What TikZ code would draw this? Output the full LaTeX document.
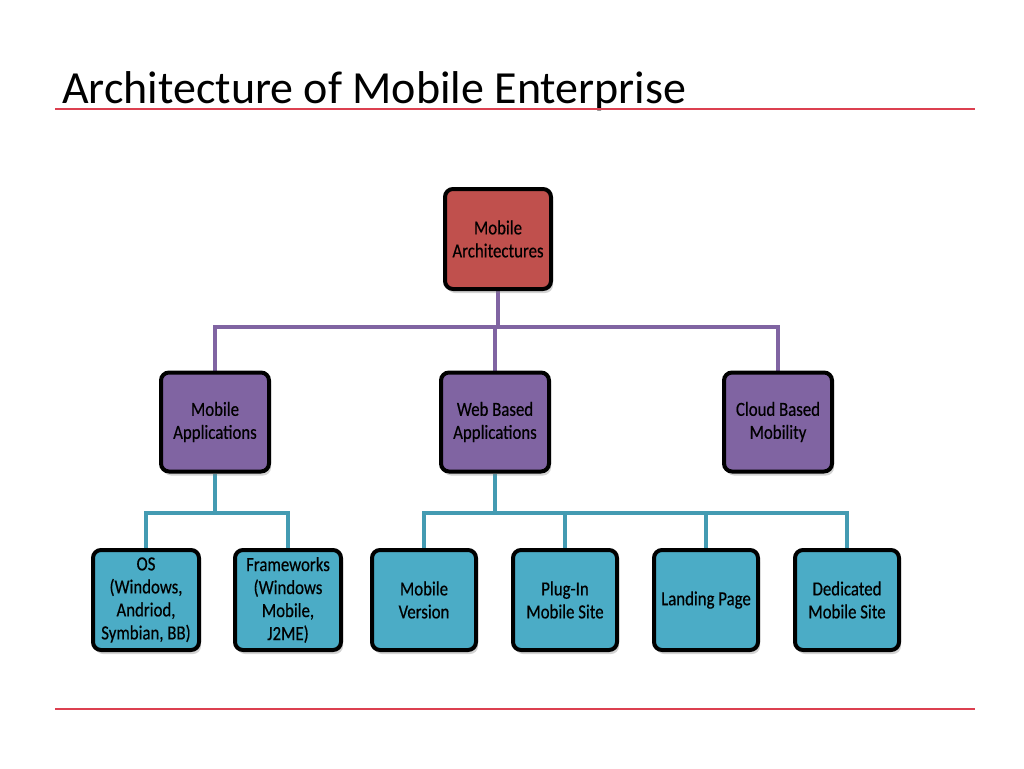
\documentclass[tikz,border=0pt]{standalone}
\usepackage{fontspec}
\setmainfont{Carlito}
\newfontfamily\boxfont[FakeStretch=0.84,FakeBold=0.4]{Carlito}
\usetikzlibrary{shadows,backgrounds}
\definecolor{redbox}{HTML}{C0504D}
\definecolor{purplebox}{HTML}{8064A2}
\definecolor{cyanbox}{HTML}{4BACC6}
\definecolor{rulered}{HTML}{DC4050}
\tikzset{
  box/.style={draw=black, line width=4pt, rounded corners=8pt, align=center,
    font=\boxfont\fontsize{20}{23}\selectfont, text=black,
    drop shadow={opacity=0.35, shadow xshift=2pt, shadow yshift=-4pt},
    inner sep=0pt},
  redb/.style={box, fill=redbox, minimum width=106pt, minimum height=100pt},
  purb/.style={box, fill=purplebox, minimum width=108pt, minimum height=99pt},
  cyb/.style={box, fill=cyanbox, minimum width=104pt, minimum height=100pt},
  purline/.style={draw=purplebox, line width=4pt},
  cyline/.style={draw=cyanbox!90!black, line width=4pt},
  hrule/.style={draw=rulered, line width=1.2pt}
}
\begin{document}
\begin{tikzpicture}[x=1pt,y=-1pt]
\useasboundingbox (0,0) rectangle (1024,768);
\node[anchor=base west, inner sep=0pt, font=\fontsize{46}{50}\selectfont] (title) at (62,103) {Architecture of Mobile Enterprise};
\coordinate (r1a) at (55,109); \coordinate (r1b) at (975,109);
\coordinate (r2a) at (55,709); \coordinate (r2b) at (975,709);
\draw[hrule] (r1a) -- (r1b);
\draw[hrule] (r2a) -- (r2b);

\coordinate (j1) at (497,327);
\coordinate (j2) at (215,513);
\coordinate (j3) at (495,513);

\node[redb] (top) at (498,239) {Mobile\\Architectures};
\node[purb] (ma) at (215,422) {Mobile\\Applications};
\node[purb] (wb) at (495,422) {Web Based\\Applications};
\node[purb] (cb) at (778,422) {Cloud Based\\Mobility};

\node[cyb, minimum width=106pt] (os) at (146,600) {OS\\(Windows,\\Andriod,\\Symbian, BB)};
\node[cyb, minimum width=106pt] (fw) at (288,600) {Frameworks\\(Windows\\Mobile,\\J2ME)};
\node[cyb] (mv) at (424,600) {Mobile\\Version};
\node[cyb] (pi) at (565,600) {Plug-In\\Mobile Site};
\node[cyb] (lp) at (706,600) {Landing Page};
\node[cyb] (dm) at (847,600) {Dedicated\\Mobile Site};

\begin{scope}[on background layer]
\draw[purline] (top.south) -- (top.south |- j1);
\draw[purline] (ma.north) |- (j1) -| (cb.north);
\draw[purline] (wb.north) -- (wb.north |- j1);
\draw[cyline] (ma.south) -- (j2);
\draw[cyline] (os.north) |- (j2) -| (fw.north);
\draw[cyline] (wb.south) -- (j3);
\draw[cyline] (mv.north) |- (j3) -| (dm.north);
\draw[cyline] (pi.north) -- (pi.north |- j3);
\draw[cyline] (lp.north) -- (lp.north |- j3);
\end{scope}
\end{tikzpicture}
\end{document}
